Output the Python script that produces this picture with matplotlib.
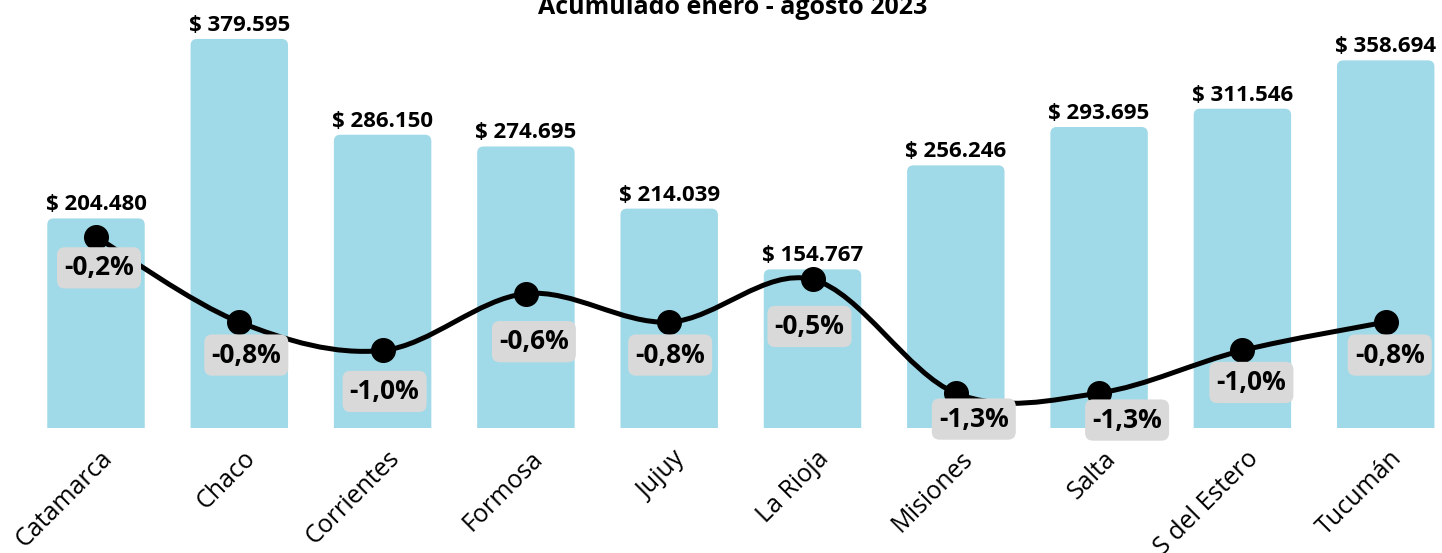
import matplotlib
matplotlib.use('Agg')
import matplotlib.pyplot as plt
from matplotlib.patches import FancyBboxPatch, PathPatch
from matplotlib.path import Path
from matplotlib.transforms import ScaledTranslation

provincias = ['Catamarca', 'Chaco', 'Corrientes', 'Formosa', 'Jujuy', 'La Rioja',
              'Misiones', 'Salta', 'S del Estero', 'Tucumán']
montos = [204480, 379595, 286150, 274695, 214039, 154767, 256246, 293695, 311546, 358694]
variacion = [-0.2, -0.8, -1.0, -0.6, -0.8, -0.5, -1.3, -1.3, -1.0, -0.8]
titulo = 'Acumulado enero - agosto 2023'

# desplazamiento de cada etiqueta de porcentaje (pixeles)
desp_etiquetas = [(3, -31), (7, -33), (2, -41), (8, -48), (1, -33),
                  (-3, -47), (18, -26), (28, -27), (9, -32), (4, -33)]

plt.rcParams['font.family'] = ['Open Sans', 'DejaVu Sans']

fig = plt.figure(figsize=(14.42, 5.53), dpi=100)
ax = fig.add_axes([0, 125 / 553, 1, 428 / 553])

x = list(range(len(provincias)))
bars = ax.bar(x, montos, width=0.68, color='#A0D9E8')
ax.set_xlim(-96 / 143.3, (1442 - 96) / 143.3)
ax.set_ylim(0, 417600)

# redondear las esquinas superiores
aspecto = (417600 / 428) / (1 / 143.3)
for b in bars:
    b.set_visible(False)
    caja = FancyBboxPatch((b.get_x(), -20000), b.get_width(), b.get_height() + 20000,
                          boxstyle='round,pad=0,rounding_size=0.045',
                          mutation_aspect=aspecto, fc='#A0D9E8', ec='none')
    ax.add_patch(caja)

for i, m in enumerate(montos):
    etiqueta = '$ {:,}'.format(m).replace(',', '.')
    ax.annotate(etiqueta, (i, m), xytext=(0, 8), textcoords='offset pixels',
                ha='center', va='baseline', fontsize=16, fontweight='bold')

ax.set_xticks(x)
ax.set_xticklabels(provincias, rotation=45, ha='right', va='top',
                   rotation_mode='anchor', fontsize=18)
ax.tick_params(axis='x', length=0, pad=13)
corrimiento = ScaledTranslation(4 / 100, 0, fig.dpi_scale_trans)
for lab in ax.get_xticklabels():
    lab.set_transform(lab.get_transform() + corrimiento)
ax.set_yticks([])
for s in ax.spines.values():
    s.set_visible(False)

ax2 = ax.twinx()
ax2.set_ylim(-1.546, 1.468)
ax2.set_yticks([])
for s in ax2.spines.values():
    s.set_visible(False)

# curva suave (Catmull-Rom) entre los puntos
pts = list(zip(x, variacion))
verts = [pts[0]]
codes = [Path.MOVETO]
for i in range(len(pts) - 1):
    p0 = pts[max(i - 1, 0)]
    p1 = pts[i]
    p2 = pts[i + 1]
    p3 = pts[min(i + 2, len(pts) - 1)]
    c1 = (p1[0] + (p2[0] - p0[0]) / 6, p1[1] + (p2[1] - p0[1]) / 6)
    c2 = (p2[0] - (p3[0] - p1[0]) / 6, p2[1] - (p3[1] - p1[1]) / 6)
    verts += [c1, c2, p2]
    codes += [Path.CURVE4] * 3
ax2.add_patch(PathPatch(Path(verts, codes), fill=False, lw=3.6, ec='black'))
ax2.plot(x, variacion, 'o', ms=17, color='black')

for i, v in enumerate(variacion):
    txt = '{:.1f}%'.format(v).replace('.', ',')
    ax2.annotate(txt, (i, v), xytext=desp_etiquetas[i], textcoords='offset pixels',
                 ha='center', va='center', fontsize=19, fontweight='bold',
                 bbox=dict(boxstyle='round,pad=0.27,rounding_size=0.3',
                           fc='#D9D9D9', ec='none'))

fig.text(0.508, (553 - 14) / 553, titulo, ha='center', va='baseline',
         fontsize=18, fontweight='bold')

fig.savefig('out.png', dpi=100)
